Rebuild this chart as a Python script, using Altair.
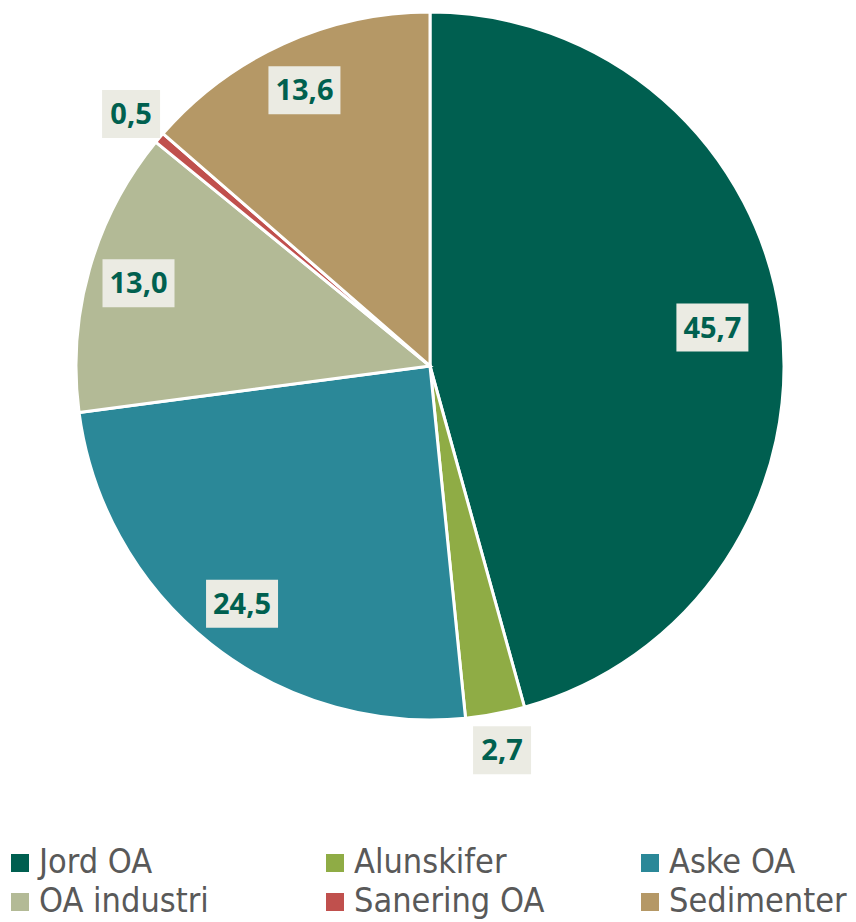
import altair as alt
import pandas as pd

categories = ["Jord OA", "Alunskifer", "Aske OA", "OA industri", "Sanering OA", "Sedimenter"]
values = [45.7, 2.7, 24.5, 13.0, 0.5, 13.6]
labels = ["45,7", "2,7", "24,5", "13,0", "0,5", "13,6"]
colors = ["#005F50", "#8FAC45", "#2B8898", "#B3BA96", "#C0504D", "#B59866"]

df = pd.DataFrame({
    "kategori": categories,
    "verdi": values,
    "etikett": labels,
    "rekkefolge": list(range(len(categories))),
})

CX, CY, R = 422, 358, 354
LEGEND_FONT = "Liberation Sans Narrow, DejaVu Sans Condensed, Liberation Sans, sans-serif"
LABEL_FONT = "Open Sans, Liberation Sans, sans-serif"

base = alt.Chart(df)

color = alt.Color(
    "kategori:N",
    scale=alt.Scale(domain=categories, range=colors),
    sort=categories,
    legend=alt.Legend(
        title=None,
        orient="none",
        direction="horizontal",
        legendX=-5,
        legendY=838,
        columns=3,
        gridAlign="all",
        columnPadding=88,
        rowPadding=5,
        symbolType="square",
        symbolSize=324,
        symbolStrokeWidth=0,
        symbolOpacity=1,
        labelFont=LEGEND_FONT,
        labelFontSize=34,
        labelColor="#595959",
        labelOffset=2,
        labelLimit=0,
        padding=0,
    ),
)

pie = base.mark_arc(outerRadius=R, stroke="white", strokeWidth=3).encode(
    theta=alt.Theta("verdi:Q", stack=True),
    color=color,
    order=alt.Order("rekkefolge:Q"),
    x=alt.value(CX),
    y=alt.value(CY),
)

lab = base.transform_window(
    cum="sum(verdi)", sort=[alt.SortField("rekkefolge")], frame=[None, 0]
).transform_joinaggregate(
    total="sum(verdi)"
).transform_calculate(
    mid="2*PI*(datum.cum - datum.verdi/2)/datum.total",
    r="datum.verdi < 3 ? 391 : (datum.verdi > 30 ? 285 : 303)",
).transform_calculate(
    px=f"{CX} + datum.r*sin(datum.mid)",
    py=f"{CY} - datum.r*cos(datum.mid)",
    w="length(datum.etikett)*14 + 16",
).transform_calculate(
    x1="datum.px - datum.w/2",
    x2="datum.px + datum.w/2",
    y1="datum.py - 24",
    y2="datum.py + 24",
)

boxes = lab.mark_rect(color="#EBEBE3").encode(
    x=alt.X("x1:Q", scale=None, axis=None),
    x2="x2:Q",
    y=alt.Y("y1:Q", scale=None, axis=None),
    y2="y2:Q",
)

texts = lab.mark_text(
    font=LABEL_FONT, fontSize=29, fontWeight="bold", color="#00604F",
    baseline="middle", align="center", dy=1,
).encode(
    x=alt.X("px:Q", scale=None, axis=None),
    y=alt.Y("py:Q", scale=None, axis=None),
    text="etikett:N",
)

chart = alt.layer(pie, boxes, texts).properties(
    width=840, height=912, autosize=alt.AutoSizeParams(type="none"), padding=0
).configure_view(stroke=None)

chart.save("out.html", embed_options={"renderer": "svg", "actions": False})
